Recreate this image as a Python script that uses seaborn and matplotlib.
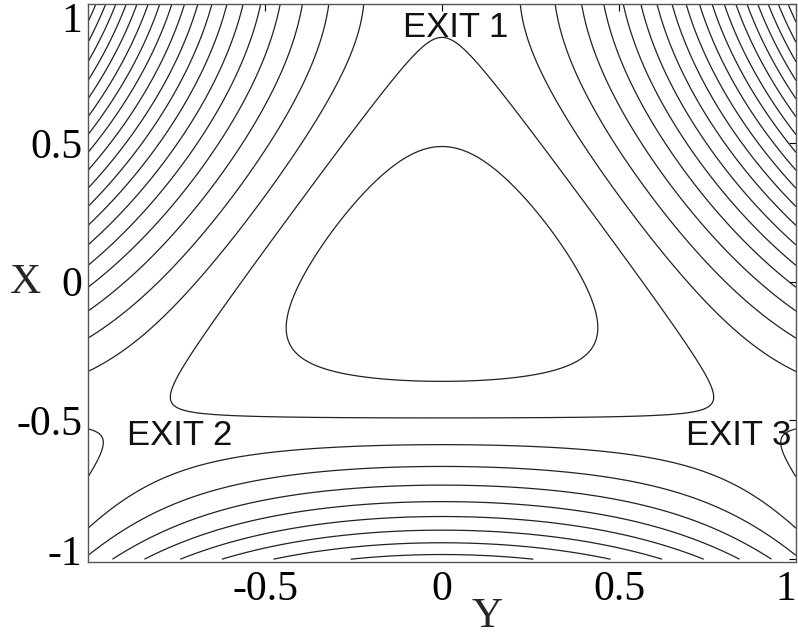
import numpy as np
import matplotlib
matplotlib.use("Agg")
import matplotlib.pyplot as plt
import matplotlib.transforms as mtransforms
import seaborn as sns

# Henon-Heiles potential, vertical axis X, horizontal axis Y
levels = [0.08, 0.16, 0.24, 0.32, 0.40, 0.48, 0.56, 0.64, 0.72, 0.80, 0.88, 0.96,
          1.04, 1.12, 1.20, 1.28, 1.36, 1.44, 1.52, 1.60]
y_ticks = [-0.5, 0, 0.5, 1]
y_ticklabels = ["-0.5", "0", "0.5", "1"]
x_ticks = [-1, -0.5, 0, 0.5, 1]
x_ticklabels = ["-1", "-0.5", "0", "0.5", "1"]
exit_labels = ["EXIT 1", "EXIT 2", "EXIT 3"]
exit_y = [0.04, -0.89, 0.69]
exit_x = [0.915, -0.556, -0.556]

sns.set_theme(style="white")
plt.rcParams['font.family'] = ['Liberation Serif', 'DejaVu Serif']

Yg = np.linspace(-1, 1, 500)
Xg = np.linspace(-1, 1, 500)
YY, XX = np.meshgrid(Yg, Xg)
V = 0.5 * (XX**2 + YY**2) + XX * YY**2 - XX**3 / 3.0

fig = plt.figure(figsize=(7.98, 6.38), dpi=100)
ax = fig.add_axes([88/798, 1 - 562/638, 708/798, 558/638])
ax.contour(YY, XX, V, levels=levels, colors="#222222", linewidths=0.9)

ax.set_xlim(-1, 1)
ax.set_ylim(-1.01, 1.0)
ax.set_xticks(y_ticks)
ax.set_xticklabels(y_ticklabels)
ax.set_yticks(x_ticks)
ax.set_yticklabels(x_ticklabels)
ax.tick_params(direction="in", length=5, width=0.8, top=True, right=True,
               labelsize=30, colors="black", pad=4)
ax.tick_params(axis="x", pad=6)
for s in ax.spines.values():
    s.set_color("#555555")
    s.set_linewidth(1.0)

# shift end labels inward like the reference
ylabs = ax.get_yticklabels()
ylabs[0].set_transform(ylabs[0].get_transform() +
                       mtransforms.ScaledTranslation(0, 9/100, fig.dpi_scale_trans))
ylabs[-1].set_transform(ylabs[-1].get_transform() +
                        mtransforms.ScaledTranslation(0, -13/100, fig.dpi_scale_trans))
xlabs = ax.get_xticklabels()
xlabs[-1].set_transform(xlabs[-1].get_transform() +
                        mtransforms.ScaledTranslation(-10/100, 0, fig.dpi_scale_trans))

ax.set_ylabel("X", rotation=0, fontsize=31)
ax.yaxis.set_label_coords(-0.088, 0.5)
ax.yaxis.label.set_va("center")
ax.set_xlabel("Y", fontsize=31)
ax.xaxis.set_label_coords(0.563, -0.098)
ax.xaxis.label.set_va("center")

for t, yy, xx in zip(exit_labels, exit_y, exit_x):
    ha = "center" if t == "EXIT 1" else "left"
    ax.text(yy, xx, t, ha=ha, va="center", fontsize=25,
            family=["Liberation Sans", "DejaVu Sans"], color="#111111")

fig.savefig("out.png", dpi=100)
